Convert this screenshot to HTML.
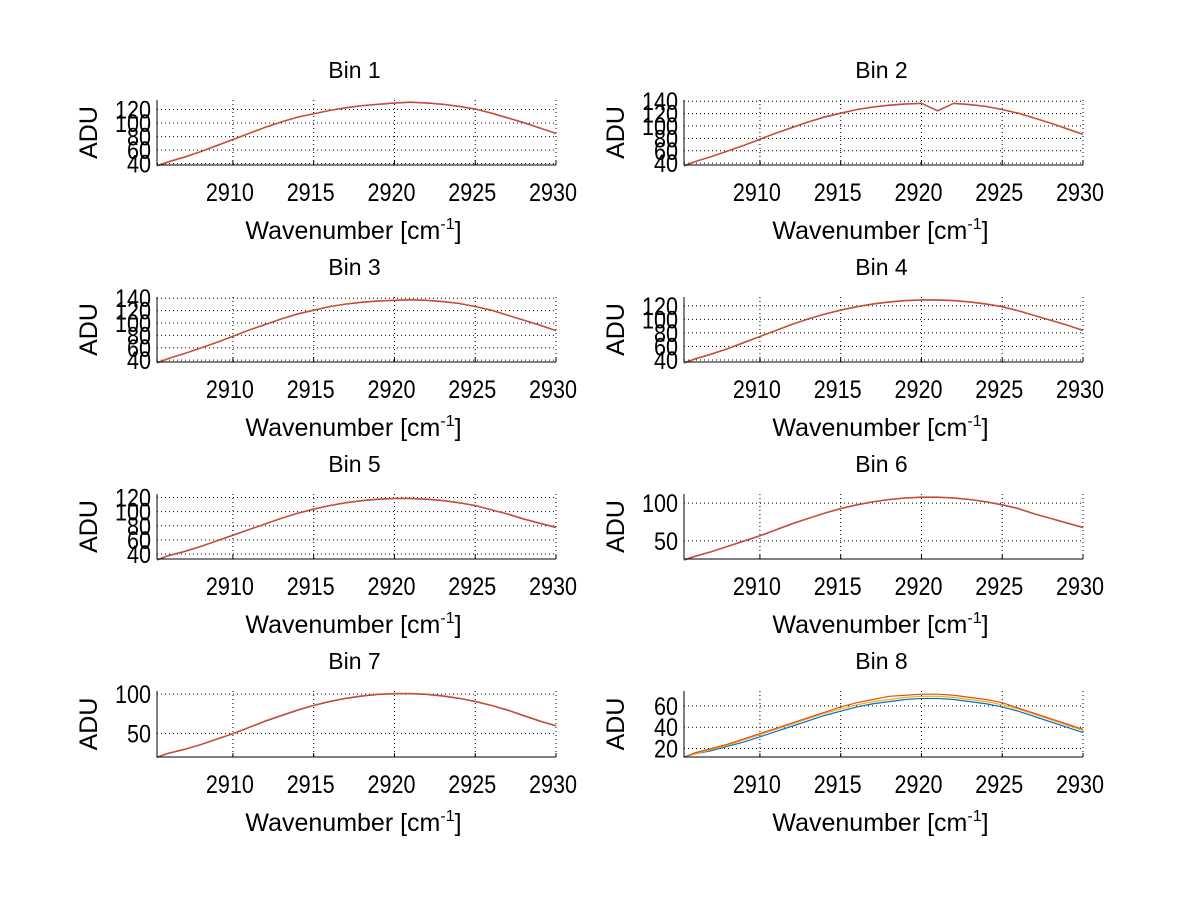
<!DOCTYPE html>
<html><head><meta charset="utf-8"><style>
body{margin:0;background:#fff;}
svg{display:block;font-family:"Liberation Sans",Arial,sans-serif;}
</style></head><body>
<svg id="fig" width="1200" height="901" viewBox="0 0 1200 901"></svg>
<script>
const xs = [2905,2906,2907,2908,2909,2910,2911,2912,2913,2914,2915,2916,2917,2918,2919,2920,2921,2922,2923,2924,2925,2926,2927,2928,2929,2930];
const xTicks = [2910,2915,2920,2925,2930];
const bin1 = [37,43,50,58,67,76,85,94,102,109,114,119,123,126,128,130,131,130,128,125,121,115,108,101,93,85];
const bin2 = [36,43,51,60,69,79,89,98,107,115,121,127,131,134,136,137,125,137,135,132,127,121,113,105,96,87];
const bin3 = [36,43,51,60,69,79,89,98,107,115,121,127,131,134,136,137,138,137,135,132,127,121,113,105,97,88];
const bin4 = [36,42,49,57,66,75,84,93,101,108,114,119,123,126,128,129,129,128,126,123,119,113,106,99,92,84];
const bin5 = [32,38,44,51,59,67,75,83,91,98,104,109,113,116,118,119,119,118,116,113,109,103,97,90,84,78];
const bin6 = [25,30,36,43,50,57,65,73,80,87,93,98,102,105,107,108,108,107,105,102,98,93,86,80,74,68];
const bin7 = [20,25,30,36,43,50,58,66,73,80,86,91,95,98,100,101,101,100,98,95,91,86,80,73,66,60];
const bin8a = [12,15,18,22,26,31,36,41,46,51,55,59,62,64,66,67,67,66,64,62,59,55,50,45,40,35];
const bin8b = [12,15,19,23,28,33,38,43,48,53,57,61,64,66,68,69,69,68,66,64,61,57,52,47,42,37];
const bin8c = [12,16,20,24,29,34,39,44,49,54,59,63,66,69,70,71,71,70,68,66,63,58,53,48,43,38];
const yTicks = [[40,60,80,100,120],[40,60,80,100,120,140],[40,60,80,100,120,140],[40,60,80,100,120],[40,60,80,100,120],[50,100],[50,100],[20,40,60]];
const yRanges = [[38,134],[37,142],[37,142],[37,133],[33,125],[26,112],[20,104],[12,74]];

const NS="http://www.w3.org/2000/svg";
const svg=document.getElementById('fig');
function mk(tag,attrs,parent){const e=document.createElementNS(NS,tag);for(const k in attrs)e.setAttribute(k,attrs[k]);(parent||svg).appendChild(e);return e;}

const series=[[bin1],[bin2],[bin3],[bin4],[bin5],[bin6],[bin7],[bin8a,bin8b,bin8c]];
const colsX=[[157,556],[684,1083]];
const rowsY=[[100,165],[297,362],[494,559],[691,757]];
const XMIN=2905.3,XMAX=2930;

for(let i=0;i<8;i++){
  const [L,R]=colsX[i%2];const [T,B]=rowsY[Math.floor(i/2)];
  const [ymin,ymax]=yRanges[i];
  const X=v=>L+(v-XMIN)/(XMAX-XMIN)*(R-L);
  const Y=v=>B-(v-ymin)/(ymax-ymin)*(B-T);
  const g=mk('g',{});
  
  
  xTicks.forEach(t=>{const l=mk('line',{x1:X(t),x2:X(t),y1:T,y2:B,stroke:'#000','stroke-width':1,'stroke-dasharray':'1,3'},g);
    
    mk('line',{x1:X(t),x2:X(t),y1:B,y2:B-4,stroke:'#000'},g);
    const tx=mk('text',{x:X(t)-3,y:B+36,'font-size':25,'text-anchor':'middle',textLength:48,lengthAdjust:'spacingAndGlyphs'},g);tx.textContent=t;
    });
  yTicks[i].forEach(t=>{const l=mk('line',{x1:L,x2:R,y1:Y(t),y2:Y(t),stroke:'#000','stroke-width':1,'stroke-dasharray':'1,3'},g);
    
    const s=String(t);
    const tx=mk('text',{x:L-6,y:Y(t)+9,'font-size':25,'text-anchor':'end',textLength:12*s.length,lengthAdjust:'spacingAndGlyphs'},g);tx.textContent=s;
    });
  const colors=series[i].length>1?['#0072bd','#edb120','#d95319']:['#d95319'];
  series[i].forEach((s,k)=>{
    if(series[i].length===1){const pu=mk('polyline',{points:s.map((v,j)=>X(Math.max(xs[j],XMIN))+','+(Y(v)+0.5)).join(' '),fill:'none',stroke:'#7e2f8e','stroke-width':1},g);
      }
    const p=mk('polyline',{points:s.map((v,j)=>X(Math.max(xs[j],XMIN))+','+Y(v)).join(' '),fill:'none',stroke:colors[k],'stroke-width':1.2},g);
    
  });
  const ax=mk('path',{d:`M${L},${T} V${B} H${R}`,fill:'none',stroke:'#000','stroke-width':1},g);
  
  const cx=(L+R)/2;
  const ti=mk('text',{x:cx-2,y:T-22,'font-size':23,'text-anchor':'middle'},g);ti.textContent='Bin '+(i+1);
  
  const xl=mk('text',{x:cx-3,y:B+74,'font-size':25,'text-anchor':'middle'},g);
  
  xl.innerHTML='Wavenumber [cm<tspan dy="-10" font-size="16">-1</tspan><tspan dy="10">]</tspan>';
  const yl=mk('text',{x:0,y:0,'font-size':25,'text-anchor':'middle',transform:`translate(${L-60},${(T+B)/2}) rotate(-90)`},g);yl.textContent='ADU';
  
}
</script>
</body></html>
